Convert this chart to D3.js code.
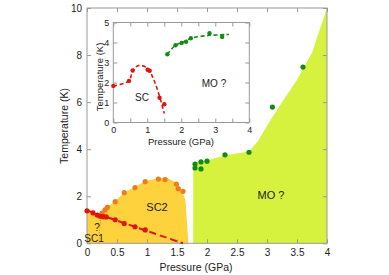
<!DOCTYPE html>
<html>
<head>
<meta charset="utf-8">
<script src="https://cdn.jsdelivr.net/npm/d3@7"></script>
<style>
  body { margin: 0; background: #fff; }
  svg text { font-family: "Liberation Sans", Arial, sans-serif; fill: #222; }
</style>
</head>
<body>
<div id="chart"></div>
<script>
// main panel data
var redP = [0, 0.1, 0.17, 0.22, 0.27, 0.32, 0.47, 0.62, 0.8, 0.97];
var redT = [1.38, 1.29, 1.2, 1.15, 1.13, 1.12, 1.0, 0.84, 0.7, 0.57];
var redLineP = [0, 1.6];
var redLineT = [1.4, 0];

var orangeP = [0.25, 0.3, 0.34, 0.47, 0.62, 0.8, 0.97, 1.19, 1.3, 1.49, 1.52, 1.6];
var orangeT = [1.28, 1.42, 1.53, 1.77, 2.15, 2.37, 2.62, 2.73, 2.71, 2.52, 2.32, 2.21];
var sc1LineP = [0.195, 0.23];
var sc1LineT = [0, 1.15];

var greenP = [1.8, 1.8, 1.9, 1.9, 2.0, 2.3, 2.7, 3.09, 3.6];
var greenT = [3.37, 3.2, 3.46, 3.16, 3.49, 3.76, 3.87, 5.79, 7.49];

// phase regions
var sc2P = [0, 0, 0.1, 0.2, 0.25, 0.3, 0.35, 0.47, 0.62, 0.8, 0.97, 1.2, 1.35, 1.5, 1.58, 1.64, 1.69];
var sc2T = [0, 1.4, 1.3, 1.21, 1.27, 1.43, 1.56, 1.8, 2.16, 2.4, 2.64, 2.79, 2.76, 2.56, 2.25, 1.84, 0];
var moP = [1.77, 1.77, 2.0, 2.3, 2.7, 2.85, 3.0, 3.2, 3.5, 3.75, 4.0, 4.0];
var moT = [0, 3.42, 3.52, 3.74, 3.9, 4.35, 5.0, 5.8, 6.95, 8.1, 10, 0];

// inset data
var inRedP = [0, 0.46, 0.57, 1.01, 1.07, 1.36, 1.5];
var inRedT = [1.83, 2.08, 2.6, 2.64, 2.59, 1.24, 0.91];
var inRedLineP = [0, 0.46, 0.57, 0.75, 1.0, 1.2, 1.36, 1.5];
var inRedLineT = [1.83, 2.08, 2.6, 2.85, 2.72, 2.1, 1.3, 0.45];
var inGreenP = [1.59, 1.83, 2.01, 2.14, 2.28, 2.83, 3.2];
var inGreenT = [3.41, 3.86, 3.98, 4.04, 4.21, 4.46, 4.28];
var inGreenLineP = [1.59, 1.83, 2.1, 2.3, 2.8, 3.4];
var inGreenLineT = [3.41, 3.86, 4.05, 4.22, 4.35, 4.4];

var mainXTicks = [0, 0.5, 1, 1.5, 2, 2.5, 3, 3.5, 4];
var mainYTicks = [0, 2, 4, 6, 8, 10];
var inXTicks = [0, 0.5, 1, 1.5, 2, 2.5, 3, 3.5, 4];
var inYTicks = [0, 1, 2, 3, 4, 5];

var W = 389, H = 275;
var axisColor = '#999';
var cRed = '#e0140f', cOrange = '#f07a1e', cGreen = '#148c14';
var cYellow = '#fdd23c', cLime = '#d6f23e';

var zip = (a, b) => a.map((v, i) => [v, b[i]]);
var fmt = d3.format('~g');

var svg = d3.select('#chart').append('svg')
  .attr('width', W).attr('height', H);

var x = d3.scaleLinear().domain([0, 4]).range([87, 327]);
var y = d3.scaleLinear().domain([0, 10]).range([243.3, 8]);

var area = d3.line().x(d => x(d[0])).y(d => y(d[1]));

svg.append('path').attr('d', area(zip(sc2P, sc2T)) + 'Z').attr('fill', cYellow);
svg.append('path').attr('d', area(zip(moP, moT)) + 'Z').attr('fill', cLime);

// axes box with inward ticks on all four sides
function frame(g, xs, ys, xt, yt, xfmt, yfmt, xpad, ypad, fs) {
  var x0 = xs.range()[0], x1 = xs.range()[1], y0 = ys.range()[0], y1 = ys.range()[1];
  var ax = function(a, t, f, p) {
    return a.tickValues(t).tickSizeInner(-4).tickSizeOuter(0).tickPadding(p).tickFormat(f);
  };
  g.append('g').attr('transform', 'translate(0,' + y0 + ')').call(ax(d3.axisBottom(xs), xt, xfmt, xpad));
  g.append('g').attr('transform', 'translate(0,' + y1 + ')').call(ax(d3.axisTop(xs), xt, () => '', 0));
  g.append('g').attr('transform', 'translate(' + x0 + ',0)').call(ax(d3.axisLeft(ys), yt, yfmt, ypad));
  g.append('g').attr('transform', 'translate(' + x1 + ',0)').call(ax(d3.axisRight(ys), yt, () => '', 0));
  g.selectAll('.domain').remove();
  g.selectAll('.tick line').attr('stroke', axisColor);
  g.selectAll('.tick text').attr('font-size', fs).style('fill', '#222');
  g.append('rect').attr('x', x0).attr('y', y1).attr('width', x1 - x0).attr('height', y0 - y1)
    .attr('fill', 'none').attr('stroke', axisColor);
}

var mainG = svg.append('g');
frame(mainG, x, y, mainXTicks, mainYTicks, fmt, fmt, 6, 5, 10);

// lines
var line = d3.line().x(d => x(d[0])).y(d => y(d[1]));
svg.append('path').attr('d', line(zip(sc1LineP, sc1LineT)))
  .attr('stroke', cOrange).attr('stroke-width', 1).attr('stroke-dasharray', '1,1.5').attr('fill', 'none');
svg.append('path').attr('d', line(zip(redLineP, redLineT)))
  .attr('stroke', cRed).attr('stroke-width', 2).attr('stroke-dasharray', '7,4').attr('fill', 'none');

function dots(g, P, T, xs, ys, r, c) {
  g.append('g').selectAll('circle').data(zip(P, T)).enter().append('circle')
    .attr('cx', d => xs(d[0])).attr('cy', d => ys(d[1])).attr('r', r).attr('fill', c);
}
dots(svg, orangeP, orangeT, x, y, 2.6, cOrange);
dots(svg, redP, redT, x, y, 2.6, cRed);
dots(svg, greenP, greenT, x, y, 2.6, cGreen);

// labels
svg.append('text').attr('x', 157).attr('y', 211).attr('text-anchor', 'middle').attr('font-size', 11).text('SC2');
svg.append('text').attr('x', 271).attr('y', 199).attr('text-anchor', 'middle').attr('font-size', 11).text('MO ?');
svg.append('text').attr('x', 97).attr('y', 231).attr('text-anchor', 'middle').attr('font-size', 10).text('?');
svg.append('text').attr('x', 94).attr('y', 242).attr('text-anchor', 'middle').attr('font-size', 10).text('SC1');
svg.append('text').attr('x', 196).attr('y', 271).attr('text-anchor', 'middle').attr('font-size', 10.5).text('Pressure (GPa)');
svg.append('text').attr('transform', 'translate(68,126) rotate(-90)').attr('text-anchor', 'middle')
  .attr('font-size', 10.5).text('Temperature (K)');

// inset
var xi = d3.scaleLinear().domain([0, 4]).range([113.3, 249.3]);
var yi = d3.scaleLinear().domain([0, 5]).range([122.5, 22.5]);
var inG = svg.append('g');
inG.append('rect').attr('x', 113.3).attr('y', 22.5).attr('width', 136).attr('height', 100).attr('fill', '#fff');
frame(inG, xi, yi, inXTicks, inYTicks, d => Number.isInteger(d) ? fmt(d) : '', fmt, 4, 4, 9);

var lineI = d3.line().x(d => xi(d[0])).y(d => yi(d[1])).curve(d3.curveCatmullRom);
inG.append('path').attr('d', lineI(zip(inRedLineP, inRedLineT)))
  .attr('stroke', cRed).attr('stroke-width', 1.6).attr('stroke-dasharray', '4,2.5').attr('fill', 'none');
inG.append('path').attr('d', lineI(zip(inGreenLineP, inGreenLineT)))
  .attr('stroke', cGreen).attr('stroke-width', 1.6).attr('stroke-dasharray', '4,2.5').attr('fill', 'none');
dots(inG, inRedP, inRedT, xi, yi, 2.2, cRed);
dots(inG, inGreenP, inGreenT, xi, yi, 2.2, cGreen);

inG.append('text').attr('x', 142).attr('y', 101).attr('text-anchor', 'middle').attr('font-size', 10).text('SC');
inG.append('text').attr('x', 214).attr('y', 87).attr('text-anchor', 'middle').attr('font-size', 10).text('MO ?');
inG.append('text').attr('x', 181).attr('y', 144.5).attr('text-anchor', 'middle').attr('font-size', 9.5).text('Pressure (GPa)');
inG.append('text').attr('transform', 'translate(102.5,77) rotate(-90)').attr('text-anchor', 'middle')
  .attr('font-size', 9.5).text('Temperature (K)');
</script>
</body>
</html>
